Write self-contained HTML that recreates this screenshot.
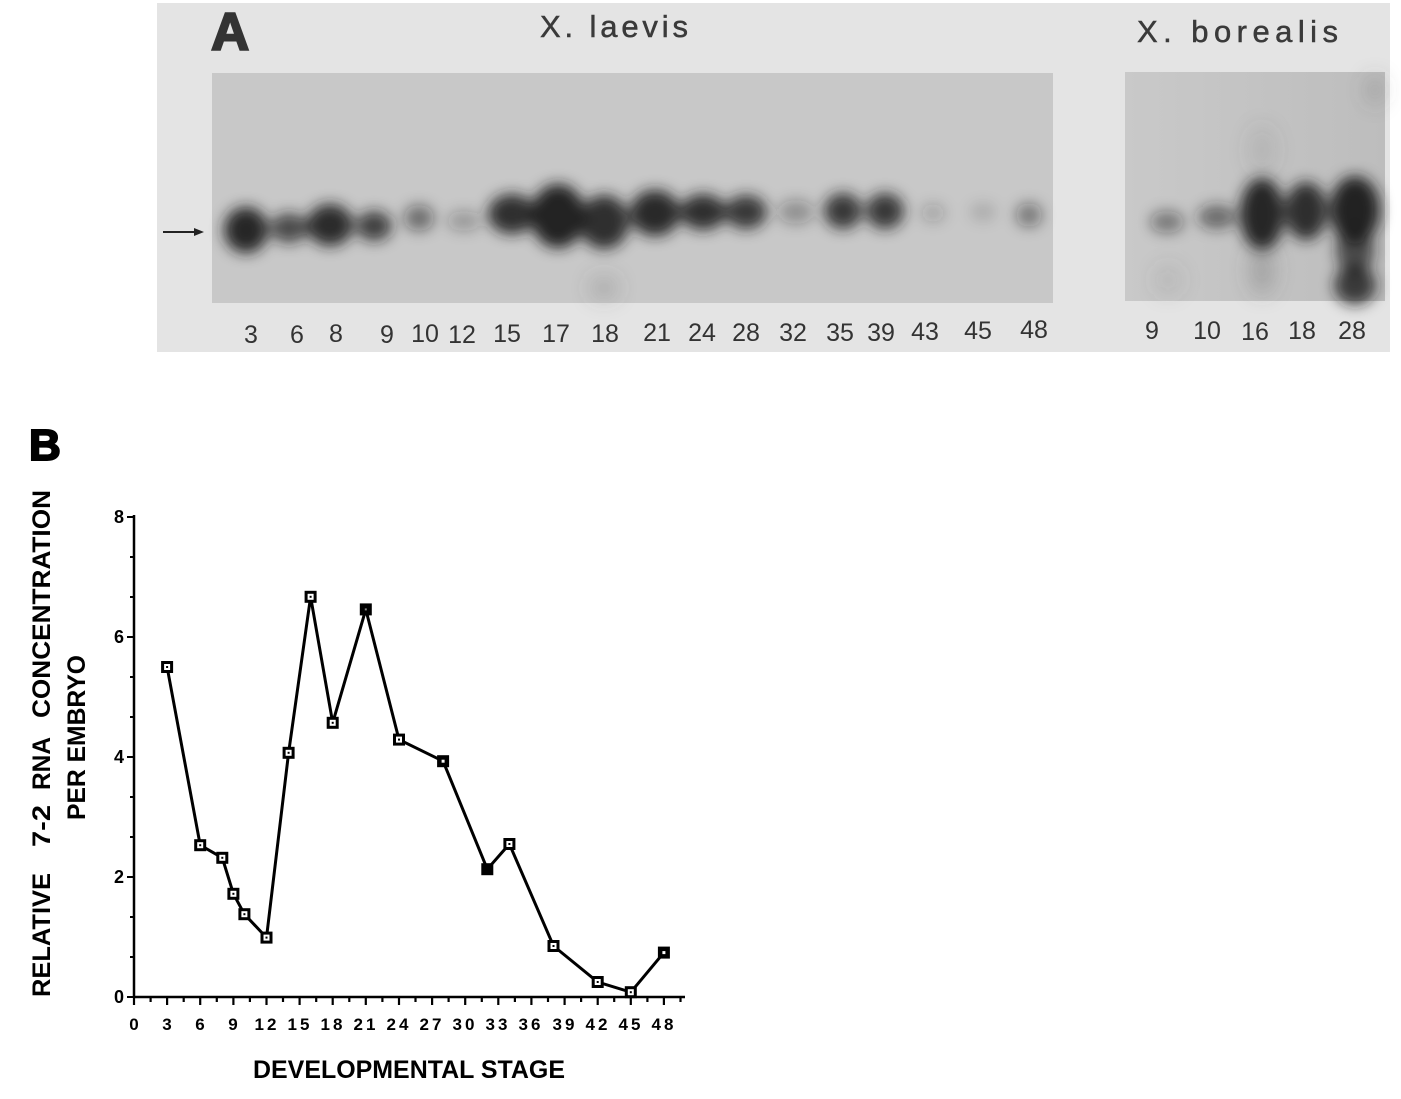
<!DOCTYPE html>
<html>
<head>
<meta charset="utf-8">
<style>
  html,body{margin:0;padding:0;background:#fff;}
  svg{display:block;}
  .gl{font-family:"Liberation Sans",sans-serif;fill:#333;font-size:25px;text-anchor:middle;}
  .bt{font-family:"Liberation Sans",sans-serif;font-weight:bold;fill:#000;}
</style>
</head>
<body>
<svg width="1401" height="1099" viewBox="0 0 1401 1099" xmlns="http://www.w3.org/2000/svg">
  <defs>
    <filter id="blur" x="-50%" y="-50%" width="200%" height="200%">
      <feGaussianBlur stdDeviation="7"/>
    </filter>
    <filter id="blur2" x="-50%" y="-50%" width="200%" height="200%">
      <feGaussianBlur stdDeviation="10"/>
    </filter>
    <linearGradient id="gelR" x1="0" y1="0" x2="1" y2="0">
      <stop offset="0" stop-color="#c9c9c9"/>
      <stop offset="1" stop-color="#bdbdbd"/>
    </linearGradient>
  </defs>

  <!-- Panel A background -->
  <rect x="157" y="3" width="1233" height="349" fill="#e4e4e4"/>
  <!-- gels -->
  <rect x="212" y="73" width="841" height="230" fill="#c8c8c8"/>
  <rect x="1125" y="72" width="260" height="229" fill="url(#gelR)"/>

  <!-- faint streaks / smudges -->
  <g filter="url(#blur2)" fill="#555">
    <ellipse cx="604" cy="288" rx="14" ry="12" opacity="0.25"/>
    <ellipse cx="1262" cy="270" rx="12" ry="25" opacity="0.3"/>
    <ellipse cx="1262" cy="150" rx="14" ry="25" opacity="0.12"/>
    <ellipse cx="1375" cy="90" rx="8" ry="14" opacity="0.3"/>
    <ellipse cx="1168" cy="280" rx="14" ry="16" opacity="0.12"/>
  </g>

  <!-- bands -->
  <g filter="url(#blur)" fill="#1c1c1c">
    <ellipse cx="246" cy="230" rx="22" ry="23" opacity="0.95"/>
    <ellipse cx="289" cy="228" rx="19" ry="15" opacity="0.72"/>
    <ellipse cx="330" cy="225" rx="23" ry="21" opacity="0.92"/>
    <ellipse cx="374" cy="226" rx="18" ry="15" opacity="0.78"/>
    <ellipse cx="419" cy="218" rx="15" ry="13" opacity="0.5"/>
    <ellipse cx="464" cy="221" rx="17" ry="10" opacity="0.28"/>
    <ellipse cx="512" cy="214" rx="24" ry="20" opacity="0.9"/>
    <ellipse cx="558" cy="216" rx="27" ry="32" opacity="0.97"/>
    <ellipse cx="604" cy="222" rx="25" ry="27" opacity="0.9"/>
    <ellipse cx="655" cy="213" rx="25" ry="23" opacity="0.93"/>
    <ellipse cx="703" cy="212" rx="23" ry="18" opacity="0.9"/>
    <ellipse cx="746" cy="212" rx="21" ry="17" opacity="0.85"/>
    <ellipse cx="796" cy="212" rx="18" ry="12" opacity="0.32"/>
    <ellipse cx="843" cy="211" rx="19" ry="18" opacity="0.85"/>
    <ellipse cx="885" cy="211" rx="19" ry="18" opacity="0.85"/>
    <ellipse cx="933" cy="213" rx="12" ry="9" opacity="0.22"/>
    <ellipse cx="983" cy="212" rx="13" ry="9" opacity="0.14"/>
    <ellipse cx="1029" cy="215" rx="13" ry="12" opacity="0.45"/>

    <ellipse cx="1167" cy="222" rx="17" ry="11" opacity="0.45"/>
    <ellipse cx="1217" cy="217" rx="19" ry="12" opacity="0.55"/>
    <ellipse cx="1262" cy="214" rx="22" ry="36" opacity="0.95"/>
    <ellipse cx="1306" cy="211" rx="21" ry="29" opacity="0.9"/>
    <ellipse cx="1355" cy="210" rx="25" ry="34" opacity="0.97"/>
    <ellipse cx="1355" cy="250" rx="19" ry="25" opacity="0.7"/>
    <ellipse cx="1355" cy="285" rx="21" ry="20" opacity="0.8"/>
  </g>

  <!-- arrow -->
  <line x1="163" y1="232" x2="196" y2="232" stroke="#222" stroke-width="2"/>
  <polygon points="194,228 204,232 194,236" fill="#222"/>

  <!-- A panel texts -->
  <text x="211" y="50" font-family="Liberation Sans,sans-serif" font-weight="bold" font-size="53" fill="#333" stroke="#333" stroke-width="2">A</text>
  <text x="540" y="37" font-family="Liberation Sans,sans-serif" font-size="31" fill="#3a3a3a" stroke="#3a3a3a" stroke-width="0.5" textLength="148" lengthAdjust="spacing">X. laevis</text>
  <text x="1137" y="42" font-family="Liberation Sans,sans-serif" font-size="31" fill="#3a3a3a" stroke="#3a3a3a" stroke-width="0.5" textLength="201" lengthAdjust="spacing">X. borealis</text>

  <!-- lane labels -->
  <g class="gl">
    <text x="251" y="343">3</text>
    <text x="297" y="343">6</text>
    <text x="336" y="342">8</text>
    <text x="387" y="343">9</text>
    <text x="425" y="342">10</text>
    <text x="462" y="343">12</text>
    <text x="507" y="342">15</text>
    <text x="556" y="342">17</text>
    <text x="605" y="342">18</text>
    <text x="657" y="341">21</text>
    <text x="702" y="341">24</text>
    <text x="746" y="341">28</text>
    <text x="793" y="341">32</text>
    <text x="840" y="341">35</text>
    <text x="881" y="341">39</text>
    <text x="925" y="340">43</text>
    <text x="978" y="339">45</text>
    <text x="1034" y="338">48</text>
    <text x="1152" y="339">9</text>
    <text x="1207" y="339">10</text>
    <text x="1255" y="340">16</text>
    <text x="1302" y="339">18</text>
    <text x="1352" y="339">28</text>
  </g>

  <!-- Panel B -->
  <text x="29" y="460" class="bt" font-size="44" stroke="#000" stroke-width="2">B</text>

  <!-- Y axis label -->
  <g transform="translate(50,997) rotate(-90)" class="bt" font-size="25">
    <text x="0" y="0" textLength="124" lengthAdjust="spacingAndGlyphs">RELATIVE</text>
    <text x="150" y="0" textLength="42" lengthAdjust="spacingAndGlyphs">7-2</text>
    <text x="207" y="0" textLength="53" lengthAdjust="spacingAndGlyphs">RNA</text>
    <text x="279" y="0" textLength="228" lengthAdjust="spacingAndGlyphs">CONCENTRATION</text>
  </g>
  <g transform="translate(85,820) rotate(-90)" class="bt" font-size="25">
    <text x="0" y="0" textLength="165" lengthAdjust="spacingAndGlyphs">PER EMBRYO</text>
  </g>

  <!-- X axis label -->
  <text x="253" y="1078" class="bt" font-size="25" textLength="312" lengthAdjust="spacingAndGlyphs">DEVELOPMENTAL STAGE</text>

  <!-- axes -->
  <g stroke="#000" stroke-width="2.5" fill="none">
    <line x1="134" y1="515" x2="134" y2="998"/>
    <line x1="133" y1="997" x2="685" y2="997"/>
  </g>
  <!-- y ticks -->
  <g stroke="#000" stroke-width="2">
    <line x1="127" y1="517" x2="134" y2="517"/>
    <line x1="130" y1="557" x2="134" y2="557"/>
    <line x1="130" y1="597" x2="134" y2="597"/>
    <line x1="127" y1="637" x2="134" y2="637"/>
    <line x1="130" y1="677" x2="134" y2="677"/>
    <line x1="130" y1="717" x2="134" y2="717"/>
    <line x1="127" y1="757" x2="134" y2="757"/>
    <line x1="130" y1="797" x2="134" y2="797"/>
    <line x1="130" y1="837" x2="134" y2="837"/>
    <line x1="127" y1="877" x2="134" y2="877"/>
    <line x1="130" y1="917" x2="134" y2="917"/>
    <line x1="130" y1="957" x2="134" y2="957"/>
    <line x1="127" y1="997" x2="134" y2="997"/>
  </g>
  <!-- y tick labels -->
  <g class="bt" font-size="18" text-anchor="end">
    <text x="124" y="523">8</text>
    <text x="124" y="643">6</text>
    <text x="124" y="763">4</text>
    <text x="124" y="883">2</text>
    <text x="124" y="1003">0</text>
  </g>
  <!-- x ticks -->
  <g stroke="#000" stroke-width="2.2">
    <line x1="134" y1="997" x2="134" y2="1005"/>
    <line x1="150.6" y1="997" x2="150.6" y2="1002"/>
    <line x1="167.1" y1="997" x2="167.1" y2="1005"/>
    <line x1="183.7" y1="997" x2="183.7" y2="1002"/>
    <line x1="200.2" y1="997" x2="200.2" y2="1005"/>
    <line x1="216.8" y1="997" x2="216.8" y2="1002"/>
    <line x1="233.4" y1="997" x2="233.4" y2="1005"/>
    <line x1="249.9" y1="997" x2="249.9" y2="1002"/>
    <line x1="266.5" y1="997" x2="266.5" y2="1005"/>
    <line x1="283.0" y1="997" x2="283.0" y2="1002"/>
    <line x1="299.6" y1="997" x2="299.6" y2="1005"/>
    <line x1="316.2" y1="997" x2="316.2" y2="1002"/>
    <line x1="332.7" y1="997" x2="332.7" y2="1005"/>
    <line x1="349.3" y1="997" x2="349.3" y2="1002"/>
    <line x1="365.8" y1="997" x2="365.8" y2="1005"/>
    <line x1="382.4" y1="997" x2="382.4" y2="1002"/>
    <line x1="399.0" y1="997" x2="399.0" y2="1005"/>
    <line x1="415.5" y1="997" x2="415.5" y2="1002"/>
    <line x1="432.1" y1="997" x2="432.1" y2="1005"/>
    <line x1="448.6" y1="997" x2="448.6" y2="1002"/>
    <line x1="465.2" y1="997" x2="465.2" y2="1005"/>
    <line x1="481.8" y1="997" x2="481.8" y2="1002"/>
    <line x1="498.3" y1="997" x2="498.3" y2="1005"/>
    <line x1="514.9" y1="997" x2="514.9" y2="1002"/>
    <line x1="531.4" y1="997" x2="531.4" y2="1005"/>
    <line x1="548.0" y1="997" x2="548.0" y2="1002"/>
    <line x1="564.6" y1="997" x2="564.6" y2="1005"/>
    <line x1="581.1" y1="997" x2="581.1" y2="1002"/>
    <line x1="597.7" y1="997" x2="597.7" y2="1005"/>
    <line x1="614.2" y1="997" x2="614.2" y2="1002"/>
    <line x1="630.8" y1="997" x2="630.8" y2="1005"/>
    <line x1="647.4" y1="997" x2="647.4" y2="1002"/>
    <line x1="663.9" y1="997" x2="663.9" y2="1005"/>
    <line x1="680.5" y1="997" x2="680.5" y2="1002"/>
  </g>
  <!-- x tick labels -->
  <g class="bt" font-size="17" text-anchor="middle">
    <text x="134" y="1030">0</text>
    <text x="167" y="1030">3</text>
    <text x="200" y="1030">6</text>
    <text x="233" y="1030">9</text>
    <text x="267" y="1030" letter-spacing="3">12</text>
    <text x="300" y="1030" letter-spacing="3">15</text>
    <text x="333" y="1030" letter-spacing="3">18</text>
    <text x="366" y="1030" letter-spacing="3">21</text>
    <text x="399" y="1030" letter-spacing="3">24</text>
    <text x="432" y="1030" letter-spacing="3">27</text>
    <text x="465" y="1030" letter-spacing="3">30</text>
    <text x="498" y="1030" letter-spacing="3">33</text>
    <text x="531" y="1030" letter-spacing="3">36</text>
    <text x="565" y="1030" letter-spacing="3">39</text>
    <text x="598" y="1030" letter-spacing="3">42</text>
    <text x="631" y="1030" letter-spacing="3">45</text>
    <text x="664" y="1030" letter-spacing="3">48</text>
  </g>

  <!-- series line -->
  <polyline fill="none" stroke="#000" stroke-width="3" stroke-linejoin="miter"
    points="167.1,667 200.2,845.2 222.3,857.8 233.4,893.8 244.4,914.2 266.5,937.6 288.6,752.8 310.6,596.8 332.7,722.8 365.8,609.4 399,739.6 443.1,761.2 487.3,869.2 509.4,844 553.5,946 597.7,982 630.8,992.2 663.9,952.6"/>

  <!-- markers -->
  <g>
    <g transform="translate(167.1,667)"><rect x="-6" y="-6" width="12" height="12" fill="#000"/><rect x="-3" y="-3" width="6" height="6" fill="#fff"/><rect x="-1" y="-1" width="2" height="2" fill="#000"/></g>
    <g transform="translate(200.2,845.2)"><rect x="-6" y="-6" width="12" height="12" fill="#000"/><rect x="-3" y="-3" width="6" height="6" fill="#fff"/><rect x="-1" y="-1" width="2" height="2" fill="#000"/></g>
    <g transform="translate(222.3,857.8)"><rect x="-6" y="-6" width="12" height="12" fill="#000"/><rect x="-3" y="-3" width="6" height="6" fill="#fff"/><rect x="-1" y="-1" width="2" height="2" fill="#000"/></g>
    <g transform="translate(233.4,893.8)"><rect x="-6" y="-6" width="12" height="12" fill="#000"/><rect x="-3" y="-3" width="6" height="6" fill="#fff"/><rect x="-1" y="-1" width="2" height="2" fill="#000"/></g>
    <g transform="translate(244.4,914.2)"><rect x="-6" y="-6" width="12" height="12" fill="#000"/><rect x="-3" y="-3" width="6" height="6" fill="#fff"/><rect x="-1" y="-1" width="2" height="2" fill="#000"/></g>
    <g transform="translate(266.5,937.6)"><rect x="-6" y="-6" width="12" height="12" fill="#000"/><rect x="-3" y="-3" width="6" height="6" fill="#fff"/><rect x="-1" y="-1" width="2" height="2" fill="#000"/></g>
    <g transform="translate(288.6,752.8)"><rect x="-6" y="-6" width="12" height="12" fill="#000"/><rect x="-3" y="-3" width="6" height="6" fill="#fff"/><rect x="-1" y="-1" width="2" height="2" fill="#000"/></g>
    <g transform="translate(310.6,596.8)"><rect x="-6" y="-6" width="12" height="12" fill="#000"/><rect x="-3" y="-3" width="6" height="6" fill="#fff"/><rect x="-1" y="-1" width="2" height="2" fill="#000"/></g>
    <g transform="translate(332.7,722.8)"><rect x="-6" y="-6" width="12" height="12" fill="#000"/><rect x="-3" y="-3" width="6" height="6" fill="#fff"/><rect x="-1" y="-1" width="2" height="2" fill="#000"/></g>
    <g transform="translate(365.8,609.4)"><rect x="-6" y="-6" width="12" height="12" fill="#000"/><rect x="-1" y="-1" width="2" height="2" fill="#888"/></g>
    <g transform="translate(399,739.6)"><rect x="-6" y="-6" width="12" height="12" fill="#000"/><rect x="-3" y="-3" width="6" height="6" fill="#fff"/><rect x="-1" y="-1" width="2" height="2" fill="#000"/></g>
    <g transform="translate(443.1,761.2)"><rect x="-6" y="-6" width="12" height="12" fill="#000"/><rect x="-1.5" y="-1.5" width="3" height="3" fill="#fff"/></g>
    <g transform="translate(487.3,869.2)"><rect x="-6" y="-6" width="12" height="12" fill="#000"/></g>
    <g transform="translate(509.4,844)"><rect x="-6" y="-6" width="12" height="12" fill="#000"/><rect x="-3" y="-3" width="6" height="6" fill="#fff"/><rect x="-1" y="-1" width="2" height="2" fill="#000"/></g>
    <g transform="translate(553.5,946)"><rect x="-6" y="-6" width="12" height="12" fill="#000"/><rect x="-3" y="-3" width="6" height="6" fill="#fff"/><rect x="-1" y="-1" width="2" height="2" fill="#000"/></g>
    <g transform="translate(597.7,982)"><rect x="-6" y="-6" width="12" height="12" fill="#000"/><rect x="-3" y="-3" width="6" height="6" fill="#fff"/><rect x="-1" y="-1" width="2" height="2" fill="#000"/></g>
    <g transform="translate(630.8,992.2)"><rect x="-6" y="-6" width="12" height="12" fill="#000"/><rect x="-3" y="-3" width="6" height="6" fill="#fff"/><rect x="-1" y="-1" width="2" height="2" fill="#000"/></g>
    <g transform="translate(663.9,952.6)"><rect x="-6" y="-6" width="12" height="12" fill="#000"/><rect x="-1.5" y="-1.5" width="3" height="3" fill="#fff"/></g>
  </g>
</svg>
</body>
</html>
